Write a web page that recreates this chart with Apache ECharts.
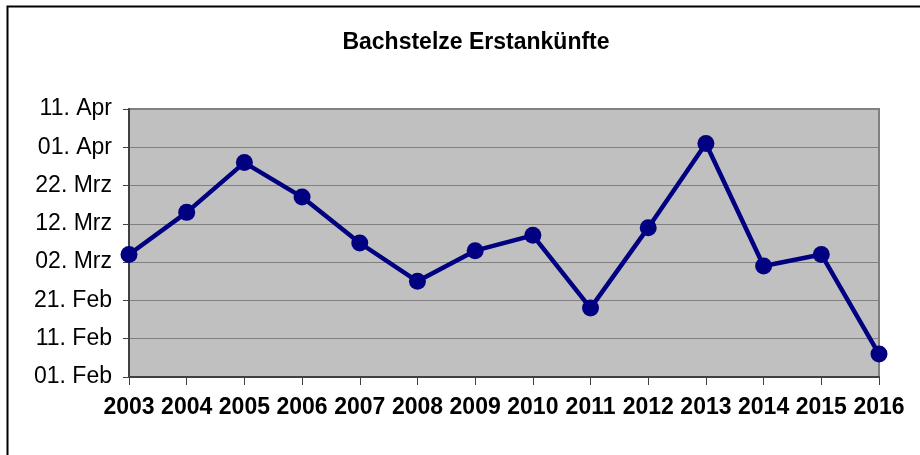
<!DOCTYPE html>
<html>
<head>
<meta charset="utf-8">
<title>Bachstelze Erstankünfte</title>
<script src="https://cdn.jsdelivr.net/npm/echarts@6/dist/echarts.min.js"></script>
<style>
  html, body { margin: 0; padding: 0; background: #fff; }
  #chart { width: 920px; height: 455px; }
</style>
</head>
<body>
<div id="chart"></div>
<script>
// Jahre der Beobachtung
var years = ['2003', '2004', '2005', '2006', '2007', '2008', '2009',
  '2010', '2011', '2012', '2013', '2014', '2015', '2016']
// Erstankunft als Tage nach dem 01. Feb
var arrivalDays = [32, 43, 56, 47, 35, 25, 33, 37, 18, 39, 61, 29, 32, 6]
// Achsenbeschriftung, alle 10 Tage ab 01. Feb
var dayTicks = [0, 10, 20, 30, 40, 50, 60, 70]
var tickLabels = ['01. Feb', '11. Feb', '21. Feb', '02. Mrz', '12. Mrz', '22. Mrz', '01. Apr', '11. Apr']

var chart = echarts.init(document.getElementById('chart'))
var font = '"Liberation Sans", Arial, sans-serif'

var option = {
  backgroundColor: '#fff',
  animation: false,
  title: {
    text: 'Bachstelze Erstankünfte',
    left: 471,
    top: 26,
    textAlign: 'center',
    textStyle: { fontFamily: font, fontWeight: 'bold', fontSize: 23, color: '#000' }
  },
  graphic: [{
    type: 'rect',
    shape: { x: 7.5, y: 6.5, width: 1000, height: 1000 },
    style: { fill: 'none', stroke: '#000', lineWidth: 2 },
    silent: true
  }],
  grid: {
    left: 129, right: 41, top: 109, bottom: 78,
    show: true,
    backgroundColor: '#C0C0C0',
    borderColor: '#808080',
    borderWidth: 2
  },
  xAxis: {
    type: 'category',
    data: years,
    boundaryGap: false,
    axisLine: { lineStyle: { color: '#404040', width: 2 } },
    axisTick: { length: 8, lineStyle: { color: '#404040', width: 1 } },
    axisLabel: {
      interval: 0,
      margin: 19,
      fontFamily: font, fontWeight: 'bold', fontSize: 23, color: '#000'
    },
    splitLine: { show: false }
  },
  yAxis: {
    type: 'value',
    min: dayTicks[0],
    max: dayTicks[dayTicks.length - 1],
    interval: 10,
    axisLine: { show: true, lineStyle: { color: '#404040', width: 2 } },
    axisTick: { show: true, length: 6, lineStyle: { color: '#404040', width: 1 } },
    axisLabel: {
      margin: 17,
      fontFamily: font, fontSize: 23, color: '#000',
      formatter: function (v) {
        var i = dayTicks.indexOf(v)
        return i >= 0 ? tickLabels[i] : ''
      }
    },
    splitLine: { lineStyle: { color: '#808080', width: 1 } }
  },
  series: [{
    name: 'Erstankunft',
    type: 'line',
    data: arrivalDays,
    symbol: 'circle',
    symbolSize: 17,
    lineStyle: { color: '#000080', width: 4.5 },
    itemStyle: { color: '#000080' }
  }]
}
chart.setOption(option)
</script>
</body>
</html>
